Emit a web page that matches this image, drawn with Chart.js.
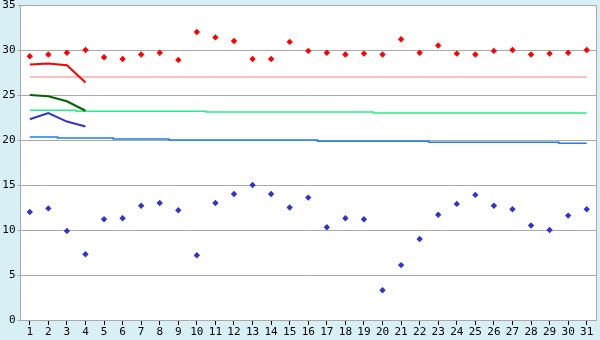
<!DOCTYPE html>
<html>
<head>
<meta charset="utf-8">
<script src="https://cdn.jsdelivr.net/npm/chart.js@4/dist/chart.umd.min.js"></script>
<style>
html,body{margin:0;padding:0;background:#d9eff6;}
#wrap{width:600px;height:340px;position:relative;}
</style>
</head>
<body>
<div id="wrap"><canvas id="c" width="600" height="340"></canvas></div>
<script>
const days = ['1','2','3','4','5','6','7','8','9','10','11','12','13','14','15','16','17','18','19','20','21','22','23','24','25','26','27','28','29','30','31'];
const highTemps = [29.3,29.5,29.7,30.0,29.2,29.0,29.5,29.7,28.9,32.0,31.4,31.0,29.0,29.0,30.9,29.9,29.7,29.5,29.6,29.5,31.2,29.7,30.5,29.6,29.5,29.9,30.0,29.5,29.6,29.7,30.0];
const lowTemps = [12.0,12.4,9.9,7.3,11.2,11.3,12.7,13.0,12.2,7.2,13.0,14.0,15.0,14.0,12.5,13.6,10.3,11.3,11.2,3.3,6.1,9.0,11.7,12.9,13.9,12.7,12.3,10.5,10.0,11.6,12.3];
const redLine = [28.4,28.5,28.3,26.4];
const greenLine = [25.0,24.85,24.3,23.25];
const blueLine = [22.3,23.0,22.05,21.5];
const pinkNormal = [27,27,27,27,27,27,27,27,27,27,27,27,27,27,27,27,27,27,27,27,27,27,27,27,27,27,27,27,27,27,27];
const greenNormal = [23.3,23.3,23.3,23.2,23.2,23.2,23.2,23.2,23.2,23.2,23.1,23.1,23.1,23.1,23.1,23.1,23.1,23.1,23.1,23.0,23.0,23.0,23.0,23.0,23.0,23.0,23.0,23.0,23.0,23.0,23.0];
const blueNormal = [20.33,20.33,20.22,20.22,20.22,20.11,20.11,20.11,20.0,20.0,20.0,20.0,20.0,20.0,20.0,20.0,19.87,19.87,19.87,19.87,19.87,19.87,19.75,19.75,19.75,19.75,19.75,19.75,19.75,19.64,19.64];
const yTicks = [0,5,10,15,20,25,30,35];

const font = {family:'"DejaVu Sans Mono", monospace', size:11};

const bgPlugin = {
  id:'bg',
  beforeDraw(chart){
    const {ctx, chartArea:a} = chart;
    ctx.save();
    ctx.fillStyle = '#d9eff6';
    ctx.fillRect(0,0,chart.width,chart.height);
    ctx.fillStyle = '#ffffff';
    ctx.fillRect(a.left,a.top,a.right-a.left,a.bottom-a.top);
    ctx.restore();
  },
  afterDatasetsDraw(chart){
    const {ctx, chartArea:a} = chart;
    ctx.save();
    ctx.strokeStyle = '#aaaaaa';
    ctx.lineWidth = 1;
    ctx.beginPath();
    ctx.moveTo(Math.round(a.right)+0.5, a.top);
    ctx.lineTo(Math.round(a.right)+0.5, a.bottom);
    ctx.stroke();
    ctx.restore();
  }
};

function pad(arr){ const out = arr.slice(); while(out.length<days.length) out.push(null); return out; }

new Chart(document.getElementById('c'), {
  type:'line',
  data:{
    labels: days,
    datasets:[
      {data:highTemps, showLine:false, pointStyle:'rectRot', pointRadius:3.2, pointBackgroundColor:'#ff0000', pointBorderColor:'#ff0000', pointBorderWidth:0, order:0},
      {data:lowTemps, showLine:false, pointStyle:'rectRot', pointRadius:3.2, pointBackgroundColor:'#3333cc', pointBorderColor:'#3333cc', pointBorderWidth:0, order:0},
      {data:pad(redLine), borderColor:'#ff0000', borderWidth:2, pointRadius:0, order:1},
      {data:pad(greenLine), borderColor:'#006400', borderWidth:2, pointRadius:0, order:1},
      {data:pad(blueLine), borderColor:'#3333cc', borderWidth:2, pointRadius:0, order:1},
      {data:pinkNormal, borderColor:'#f08080', borderWidth:1, pointRadius:0, order:2},
      {data:greenNormal, borderColor:'#22ee88', borderWidth:1.5, pointRadius:0, stepped:'middle', order:2},
      {data:blueNormal, borderColor:'#1e7fe8', borderWidth:1.5, pointRadius:0, stepped:'middle', order:2}
    ]
  },
  options:{
    responsive:false,
    animation:false,
    layout:{padding:{top:0,right:4,left:0,bottom:0}},
    plugins:{legend:{display:false}, tooltip:{enabled:false}},
    scales:{
      x:{
        type:'category',
        offset:true,
        grid:{offset:false, drawOnChartArea:false, drawTicks:true, tickLength:5, color:'#000000'},
        border:{color:'#aaaaaa'},
        ticks:{color:'#000', font:font, padding:1, maxRotation:0, autoSkip:false},
        afterFit(s){ s.height = 20; }
      },
      y:{
        min:0, max:35,
        afterBuildTicks(s){ s.ticks = yTicks.map(v=>({value:v})); },
        grid:{color:'#aaaaaa', tickLength:3, drawTicks:true},
        border:{color:'#aaaaaa'},
        ticks:{color:'#000', font:font, padding:2},
        afterFit(s){ s.width = 20.5; s.paddingTop = 5; }
      }
    }
  },
  plugins:[bgPlugin]
});
</script>
</body>
</html>
